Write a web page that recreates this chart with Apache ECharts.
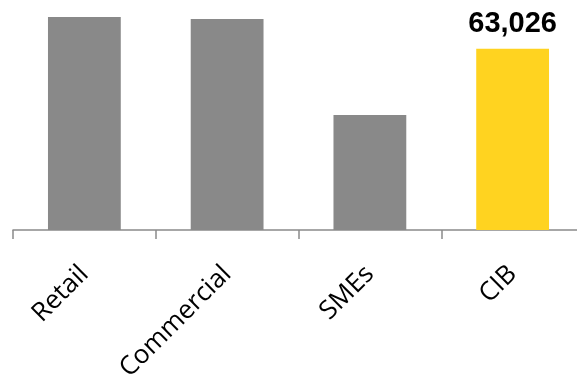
<!DOCTYPE html>
<html>
<head>
<meta charset="utf-8">
<script src="https://cdn.jsdelivr.net/npm/echarts@6/dist/echarts.min.js"></script>
<style>
  html, body { margin: 0; padding: 0; background: #ffffff; overflow: hidden; }
  /* the plot runs slightly past the right edge of the window */
  #chart { width: 584px; height: 375px; }
</style>
</head>
<body>
<div id="chart"></div>
<script>
// Segment names along the x axis
var categories = ['Retail', 'Commercial', 'SMEs', 'CIB'];
// Segment totals
var values = [74100, 73400, 40000, 63026];
// Index of the highlighted segment (drawn in yellow, with its value shown)
var highlightIndex = 3;

var GREY = '#898989';
var YELLOW = '#FFD320';

var chart = echarts.init(document.getElementById('chart'), null, { renderer: 'canvas' });

var seriesData = values.map(function (v, i) {
  var item = { value: v, itemStyle: { color: i === highlightIndex ? YELLOW : GREY } };
  if (i === highlightIndex) {
    item.label = {
      show: true,
      position: 'top',
      distance: 10,
      formatter: function (p) { return p.value.toLocaleString('en-US'); },
      fontFamily: 'Liberation Sans, Arial, sans-serif',
      fontWeight: 'bold',
      fontSize: 29,
      color: '#000000'
    };
  }
  return item;
});

chart.setOption({
  animation: false,
  backgroundColor: '#ffffff',
  grid: { left: 13, right: 0, top: 0, bottom: 145, containLabel: false, outerBoundsMode: 'none' },
  xAxis: {
    type: 'category',
    data: categories,
    boundaryGap: true,
    axisLine: { show: true, lineStyle: { color: '#8a8a8a', width: 1.5 } },
    axisTick: { show: true, length: 9, alignWithLabel: false, lineStyle: { color: '#8a8a8a', width: 1.5 } },
    axisLabel: {
      rotate: 45,
      margin: 40,
      interval: 0,
      fontFamily: 'Open Sans, sans-serif',
      fontSize: 26,
      color: '#000000'
    }
  },
  yAxis: {
    type: 'value',
    min: 0,
    max: 80000,
    show: false,
    splitLine: { show: false }
  },
  series: [{
    type: 'bar',
    data: seriesData,
    barWidth: '51%',
    label: { show: false }
  }]
});
</script>
</body>
</html>
